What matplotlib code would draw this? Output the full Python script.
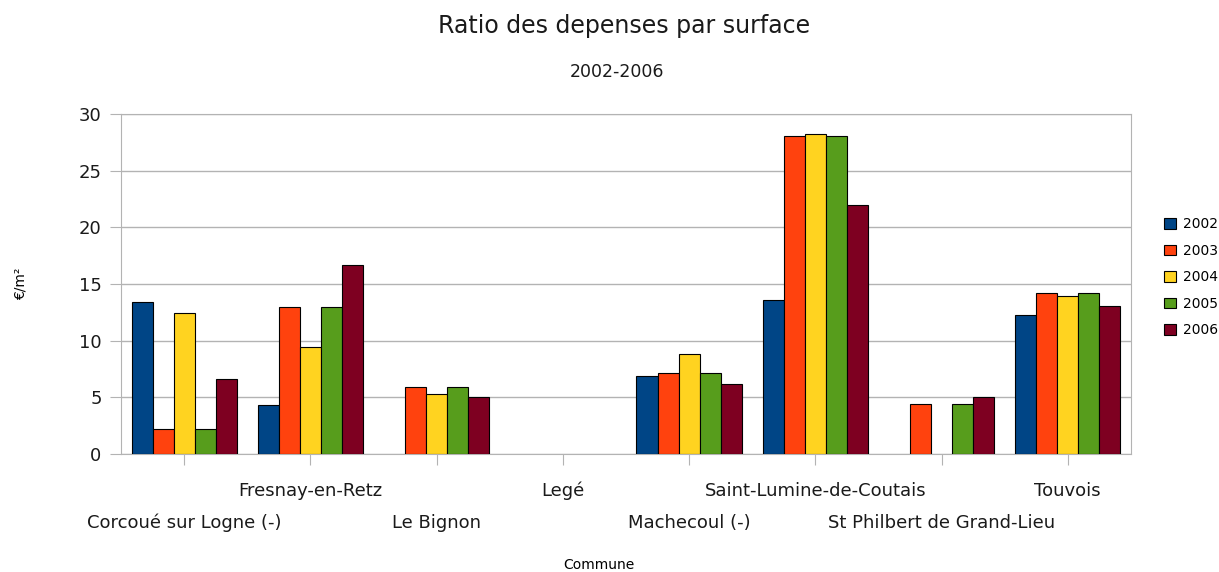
import numpy as np
import matplotlib
matplotlib.use("Agg")
import matplotlib.pyplot as plt

communes = ["Corcoué sur Logne (-)", "Fresnay-en-Retz", "Le Bignon", "Legé",
            "Machecoul (-)", "Saint-Lumine-de-Coutais", "St Philbert de Grand-Lieu", "Touvois"]
years = ["2002", "2003", "2004", "2005", "2006"]

# valeurs (nan = pas de barre)
v2002 = [13.4, 4.35, np.nan, np.nan, 6.9, 13.6, np.nan, 12.3]
v2003 = [2.2, 12.95, 5.9, np.nan, 7.15, 28.05, 4.4, 14.2]
v2004 = [12.4, 9.4, 5.3, np.nan, 8.85, 28.2, np.nan, 13.9]
v2005 = [2.2, 12.95, 5.9, np.nan, 7.15, 28.05, 4.4, 14.2]
v2006 = [6.65, 16.65, 5.0, np.nan, 6.15, 21.95, 5.05, 13.05]
series = [v2002, v2003, v2004, v2005, v2006]
colors = ["#004586", "#ff420e", "#ffd320", "#579d1c", "#7e0021"]

fig = plt.figure(figsize=(12.19, 5.72), dpi=100)
ax = fig.add_axes([0.0993, 0.2063, 0.8284, 0.5944])

x = np.arange(len(communes))
w = 1 / 6
for i, (vals, col) in enumerate(zip(series, colors)):
    ax.bar(x + (i - 2) * w, vals, width=w, color=col, edgecolor="black",
           linewidth=0.8, label=years[i], zorder=3)

ax.set_xlim(-0.5, len(communes) - 0.5)
ax.set_ylim(0, 30)
ax.set_yticks(range(0, 31, 5))
ax.grid(axis="y", color="#b3b3b3", linewidth=1, zorder=0)
for s in ax.spines.values():
    s.set_color("#b3b3b3")
ax.tick_params(axis="both", color="#b3b3b3", length=8, labelsize=13, colors="#b3b3b3",
               labelcolor="#1a1a1a")
ax.tick_params(axis="y", pad=6)

ax.set_xticks(x)
ax.set_xticklabels(communes)
for i, t in enumerate(ax.xaxis.get_major_ticks()):
    t.set_pad(12 if i % 2 else 35)

ax.set_ylabel("€/m²", fontsize=10)
ax.yaxis.set_label_coords(-0.093, 0.5)
fig.text(0.491, 0.0, "Commune", ha="center", va="bottom", fontsize=10)

fig.text(0.512, 0.955, "Ratio des depenses par surface", ha="center", va="center",
         fontsize=17, color="#1a1a1a")
fig.text(0.506, 0.874, "2002-2006", ha="center", va="center", fontsize=12.5,
         color="#1a1a1a")

fig.legend(loc="center left", bbox_to_anchor=(0.945, 0.515), frameon=False,
           fontsize=10, handlelength=0.8, handleheight=0.8, labelspacing=0.9,
           handletextpad=0.5)

fig.savefig("out.png", dpi=100)
